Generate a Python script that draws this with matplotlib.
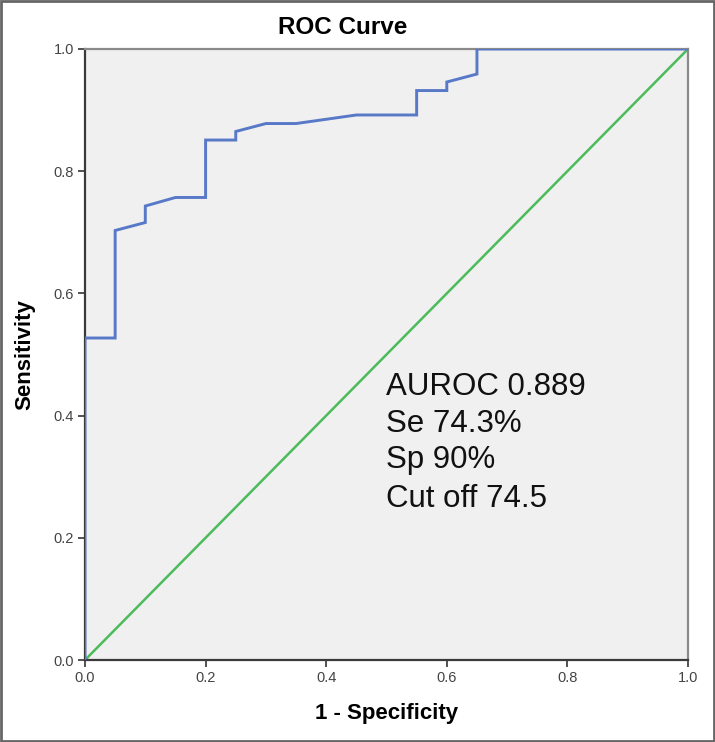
import matplotlib
matplotlib.use("Agg")
import matplotlib.pyplot as plt
from matplotlib.patches import Rectangle

plt.rcParams['font.family'] = ['Liberation Sans', 'DejaVu Sans']

# ROC curve data (1 - specificity, sensitivity)
fpr = [0.00, 0.00, 0.05, 0.05, 0.10, 0.10, 0.15, 0.20, 0.20, 0.25, 0.25,
       0.30, 0.35, 0.45, 0.55, 0.55, 0.60, 0.60, 0.65, 0.65, 1.00]
tpr = [0.000, 0.527, 0.527, 0.703, 0.716, 0.743, 0.757, 0.757, 0.851, 0.851, 0.865,
       0.878, 0.878, 0.892, 0.892, 0.932, 0.932, 0.946, 0.959, 1.000, 1.000]
ref_x = [0.0, 1.0]
ref_y = [0.0, 1.0]
ticks = [0.0, 0.2, 0.4, 0.6, 0.8, 1.0]
tick_labels = ["0.0", "0.2", "0.4", "0.6", "0.8", "1.0"]
annotation = ["AUROC 0.889", "Se 74.3%", "Sp 90%", "Cut off 74.5"]

fig = plt.figure(figsize=(7.15, 7.42), dpi=100)
ax = fig.add_axes([85/715, 82/742, 603/715, 611/742])
ax.set_facecolor('#eff0ef')

ax.plot(ref_x, ref_y, color='#4cbb5c', lw=1.8, zorder=2)
ax.plot(fpr, tpr, color='#5878c8', lw=2.1, zorder=3, solid_joinstyle='miter')

ax.set_xlim(0, 1)
ax.set_ylim(0, 1)
ax.set_xticks(ticks)
ax.set_xticklabels(tick_labels)
ax.set_yticks(ticks)
ax.set_yticklabels(tick_labels)
ax.tick_params(axis='both', direction='out', length=5, width=1.3,
               colors='#444444', labelsize=10.5, pad=3)

for side in ['left', 'bottom']:
    ax.spines[side].set_color('#3a3a3a')
    ax.spines[side].set_linewidth(1.6)
for side in ['top', 'right']:
    ax.spines[side].set_color('#8a8a8a')
    ax.spines[side].set_linewidth(1.6)
for s in ax.spines.values():
    s.set_zorder(2.5)

ax.set_xlabel("1 - Specificity", fontsize=16, fontweight='bold', labelpad=13)
ax.set_ylabel("Sensitivity", fontsize=16, fontweight='bold', labelpad=13)
fig.text(343/715, 1 - 28/742, "ROC Curve", fontsize=17.5, fontweight='bold',
         ha='center', va='center')

base_y = [0.434, 0.373, 0.314, 0.250]
for txt, yy in zip(annotation, base_y):
    ax.text(0.50, yy, txt, fontsize=22.5, color='#111111', ha='left', va='baseline')

fig.patches.append(Rectangle((0.0015, 0.0015), 0.997, 0.997, transform=fig.transFigure,
                             fill=False, edgecolor='#666666', lw=2))

fig.savefig("out.png", dpi=100)
